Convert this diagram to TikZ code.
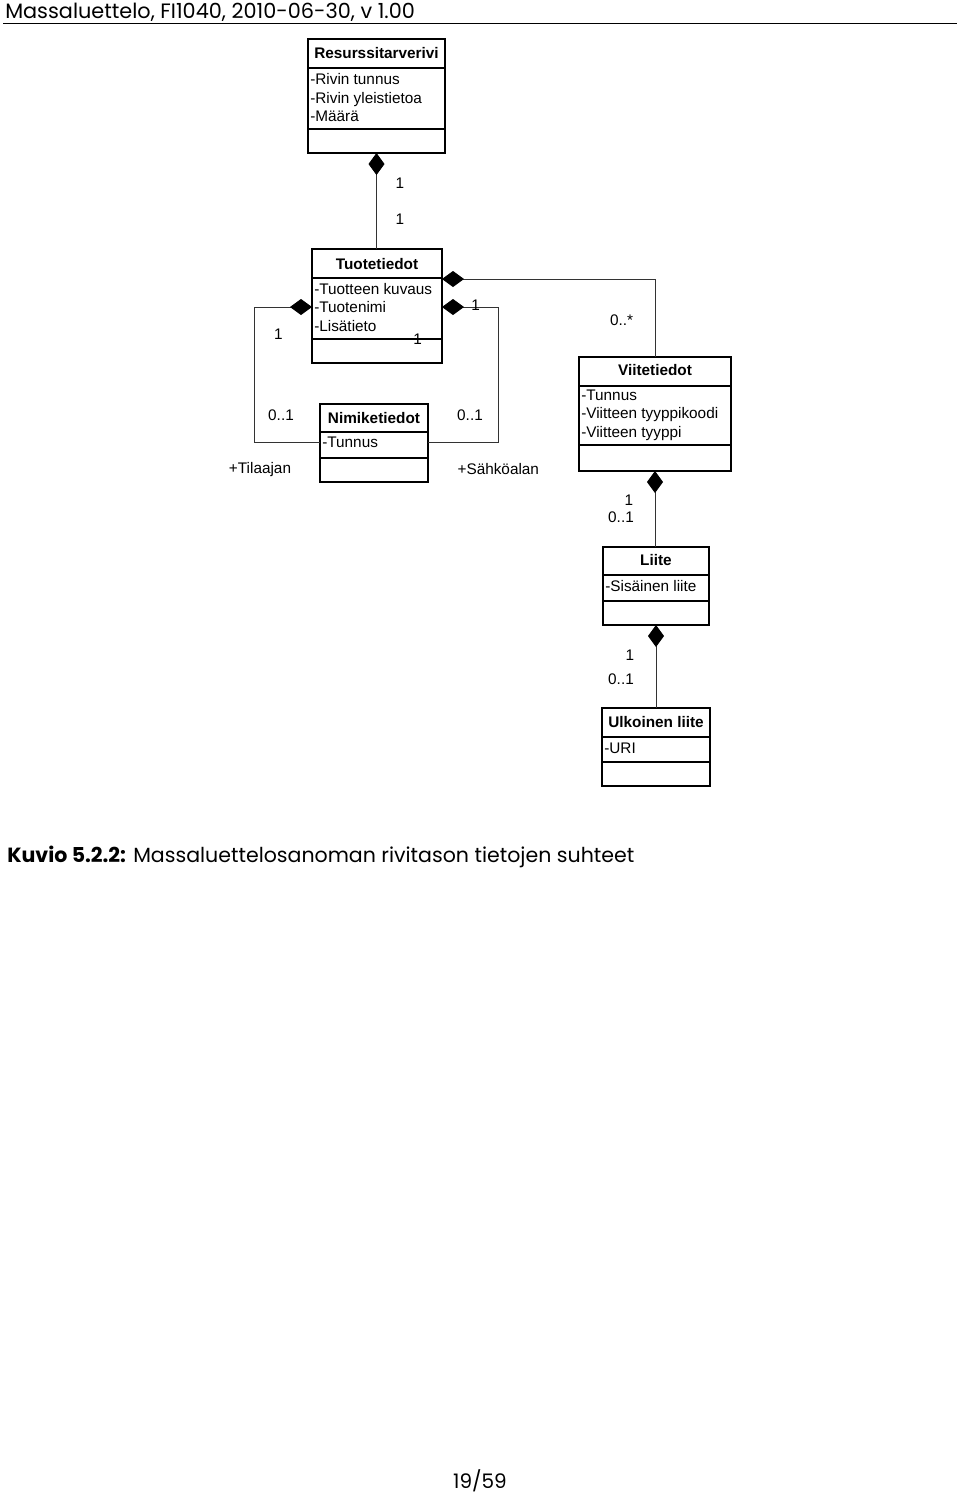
\documentclass[tikz,border=0pt]{standalone}
\usepackage{fontspec}
\setmainfont{Liberation Sans}
\newfontfamily\gothic{Poppins}
\usetikzlibrary{arrows.meta}
\newcommand\umlbox[7]{%
  \node[cls,minimum width={(#4-#2)*0.75pt},minimum height={(#5-#3)*0.75pt}] (#1) at (#2,#3) {};
  \draw[line width=0.9pt] (#2,#6) -- (#4,#6) (#2,#7) -- (#4,#7);
}
\begin{document}
\begin{tikzpicture}[x=0.75pt,y=-0.75pt,
  cls/.style={draw,line width=0.9pt,inner sep=0,outer sep=0,anchor=north west},
  ttl/.style={font=\fontsize{11.5}{14}\selectfont\bfseries,inner sep=0,anchor=base},
  attr/.style={font=\fontsize{11.5}{14}\selectfont,inner sep=0,anchor=base west},
  mult/.style={font=\fontsize{11.5}{14}\selectfont,inner sep=0,anchor=base},
  conn/.style={line width=0.6pt,draw=black!80},
  comp/.style={conn,{Diamond[length=16.5pt,width=12pt,color=black]}-}
]
\useasboundingbox[fill=white] (0,0) rectangle (960,1497);
% header
\node[font=\gothic\fontsize{15.6}{18}\selectfont,inner sep=0,anchor=base west] (hdr) at (5,18.5) {Massaluettelo, FI1040, 2010-06-30, v 1.00};
\coordinate (hl) at (3,23.5);
\coordinate (hr) at (957,23.5);
\draw[line width=0.8pt] (hl) -- (hr);

% classes
\umlbox{res}{308}{39}{445}{153}{68}{129}
\node[ttl] (resT) at (376.5,58.5) {Resurssitarverivi};
\node[attr] (resA1) at (310,84.5) {-Rivin tunnus};
\node[attr] (resA2) at (310,103.3) {-Rivin yleistietoa};
\node[attr] (resA3) at (310,121.9) {-Määrä};

\umlbox{tuo}{312}{249}{442}{363}{278}{339}
\node[ttl] (tuoT) at (377,269.3) {Tuotetiedot};
\node[attr] (tuoA1) at (314,294.3) {-Tuotteen kuvaus};
\node[attr] (tuoA2) at (314,312.9) {-Tuotenimi};
\node[attr] (tuoA3) at (314,331.5) {-Lisätieto};

\umlbox{nim}{320}{404}{428}{482}{432}{458}
\node[ttl] (nimT) at (374,423.3) {Nimiketiedot};
\node[attr] (nimA1) at (322,447.7) {-Tunnus};

\umlbox{vii}{579}{357}{731}{471}{386}{445}
\node[ttl] (viiT) at (655,375) {Viitetiedot};
\node[attr] (viiA1) at (581,400) {-Tunnus};
\node[attr] (viiA2) at (581,418.5) {-Viitteen tyyppikoodi};
\node[attr] (viiA3) at (581,437) {-Viitteen tyyppi};

\umlbox{lii}{603}{547}{709}{625}{575}{601}
\node[ttl] (liiT) at (656,565.7) {Liite};
\node[attr] (liiA1) at (605,591.7) {-Sisäinen liite};

\umlbox{ulk}{602}{708}{710}{786}{737}{762}
\node[ttl] (ulkT) at (656,727.3) {Ulkoinen liite};
\node[attr] (ulkA1) at (604,753.3) {-URI};

% connectors
\coordinate (tE) at (442,279);
\coordinate (tL) at (312,307);
\coordinate (tR) at (442,307);
\coordinate (nL) at (320,442);
\coordinate (nR) at (428,442);
\draw[comp] (res.south) -- (res.south |- tuo.north);
\draw[comp] (tE) -| (vii.north);
\draw[comp] (tL) -- ++(-58,0) |- (nL);
\draw[comp] (tR) -- ++(56,0) |- (nR);
\draw[comp] (vii.south) -- (vii.south |- lii.north);
\draw[comp] (lii.south) -- (lii.south |- ulk.north);

% multiplicities
\node[mult] (m1) at (400,188.3) {1};
\node[mult] (m2) at (400,224.3) {1};
\node[mult] (m3) at (278.3,339.3) {1};
\node[mult] (m4) at (281,420) {0..1};
\node[mult] (m5) at (260,473.3) {+Tilaajan};
\node[mult] (m6) at (475.7,310.7) {1};
\node[mult] (m7) at (417.7,344) {1};
\node[mult] (m8) at (470,420) {0..1};
\node[mult] (m9) at (498.3,474.3) {+Sähköalan};
\node[mult] (m10) at (621.7,325.7) {0..*};
\node[mult] (m11) at (629,505) {1};
\node[mult] (m12) at (621,522.7) {0..1};
\node[mult] (m13) at (630,660) {1};
\node[mult] (m14) at (621,684.3) {0..1};

% caption
\node[font=\gothic\fontsize{15.4}{18}\selectfont,inner sep=0,anchor=base west] (cap) at (7,862) {\textbf{Kuvio 5.2.2:} Massaluettelosanoman rivitason tietojen suhteet};
% page number
\node[font=\gothic\fontsize{15}{17}\selectfont,inner sep=0,anchor=base] (pg) at (480,1488) {19/59};
\end{tikzpicture}
\end{document}
